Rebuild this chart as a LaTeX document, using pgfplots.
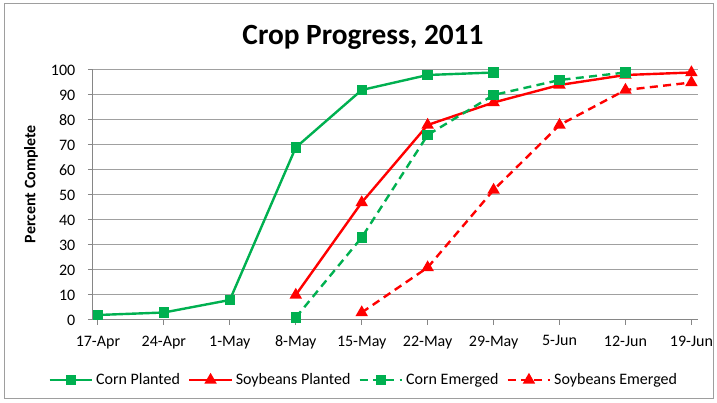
\documentclass[border=0pt]{standalone}
\usepackage{pgfplots}
\pgfplotsset{compat=1.18}
\usepackage{fontspec}
\setmainfont{Carlito}
\definecolor{cgreen}{HTML}{00B050}
\definecolor{cred}{HTML}{FF0000}
\definecolor{gridc}{HTML}{A0A0A0}
\definecolor{axc}{HTML}{868686}
\begin{document}
\begin{tikzpicture}
\path[use as bounding box] (0,0) rectangle (537.75pt,302.25pt);
\draw[axc!80, line width=0.75pt] (3pt,3pt) rectangle (534.75pt,299.25pt);
\node[font=\bfseries\fontsize{22}{26}\selectfont, anchor=base] at (272.25pt,268.5pt) {Crop Progress, 2011};
\begin{axis}[
  at={(69.75pt,62.25pt)}, anchor=south west,
  scale only axis, width=453.75pt, height=187.5pt,
  xmin=-0.075, xmax=9.1, ymin=0, ymax=100,
  xtick={0,...,9},
  xticklabels={17-Apr,24-Apr,1-May,8-May,15-May,22-May,29-May,5-Jun,12-Jun,19-Jun},
  ytick={0,10,...,100},
  /pgf/number format/assume math mode=true,
  axis x line=bottom, axis y line=left,
  axis line style={-, axc, line width=0.75pt},
  tick align=outside, major tick length=3.75pt,
  tick style={axc, line width=0.75pt},
  ymajorgrids, grid style={gridc, line width=0.75pt},
  tick label style={font=\fontsize{12}{14}\selectfont},
  xticklabel style={yshift=-4.5pt},
  yticklabel style={xshift=-6pt},
  ylabel={Percent Complete},
  ylabel style={font=\bfseries\fontsize{12}{14}\selectfont, at={(axis description cs:-0.1025,0.544)}, anchor=center, rotate=0},
  legend style={at={(0.448,-0.24)}, anchor=center, draw=none,
    font=\fontsize{12}{14}\selectfont, legend columns=4,
    /tikz/every even column/.append style={column sep=4pt}},
  legend image code/.code={\draw[mark repeat=2,mark phase=2] plot coordinates {(0pt,0pt)(16pt,0pt)(32pt,0pt)};},
  clip=false,
]
\addplot[cgreen, line width=1.8pt, mark=square*, mark size=3pt] coordinates {
 (0,2) (1,3) (2,8) (3,69) (4,92) (5,98) (6,99)};
\addlegendentry{Corn Planted}
\addplot[cred, line width=1.8pt, mark=triangle*, mark size=3.6pt] coordinates {
 (3,10) (4,47) (5,78) (6,87) (7,94) (8,98) (9,99)};
\addlegendentry{Soybeans Planted}
\addplot[cgreen, line width=1.8pt, dash pattern=on 6pt off 4pt, mark=square*, mark size=3pt, mark options={solid}] coordinates {
 (3,1) (4,33) (5,74) (6,90) (7,96) (8,99)};
\addlegendentry{Corn Emerged}
\addplot[cred, line width=1.8pt, dash pattern=on 6pt off 4pt, mark=triangle*, mark size=3.6pt, mark options={solid}] coordinates {
 (4,3) (5,21) (6,52) (7,78) (8,92) (9,95)};
\addlegendentry{Soybeans Emerged}
\end{axis}
\end{tikzpicture}
\end{document}
